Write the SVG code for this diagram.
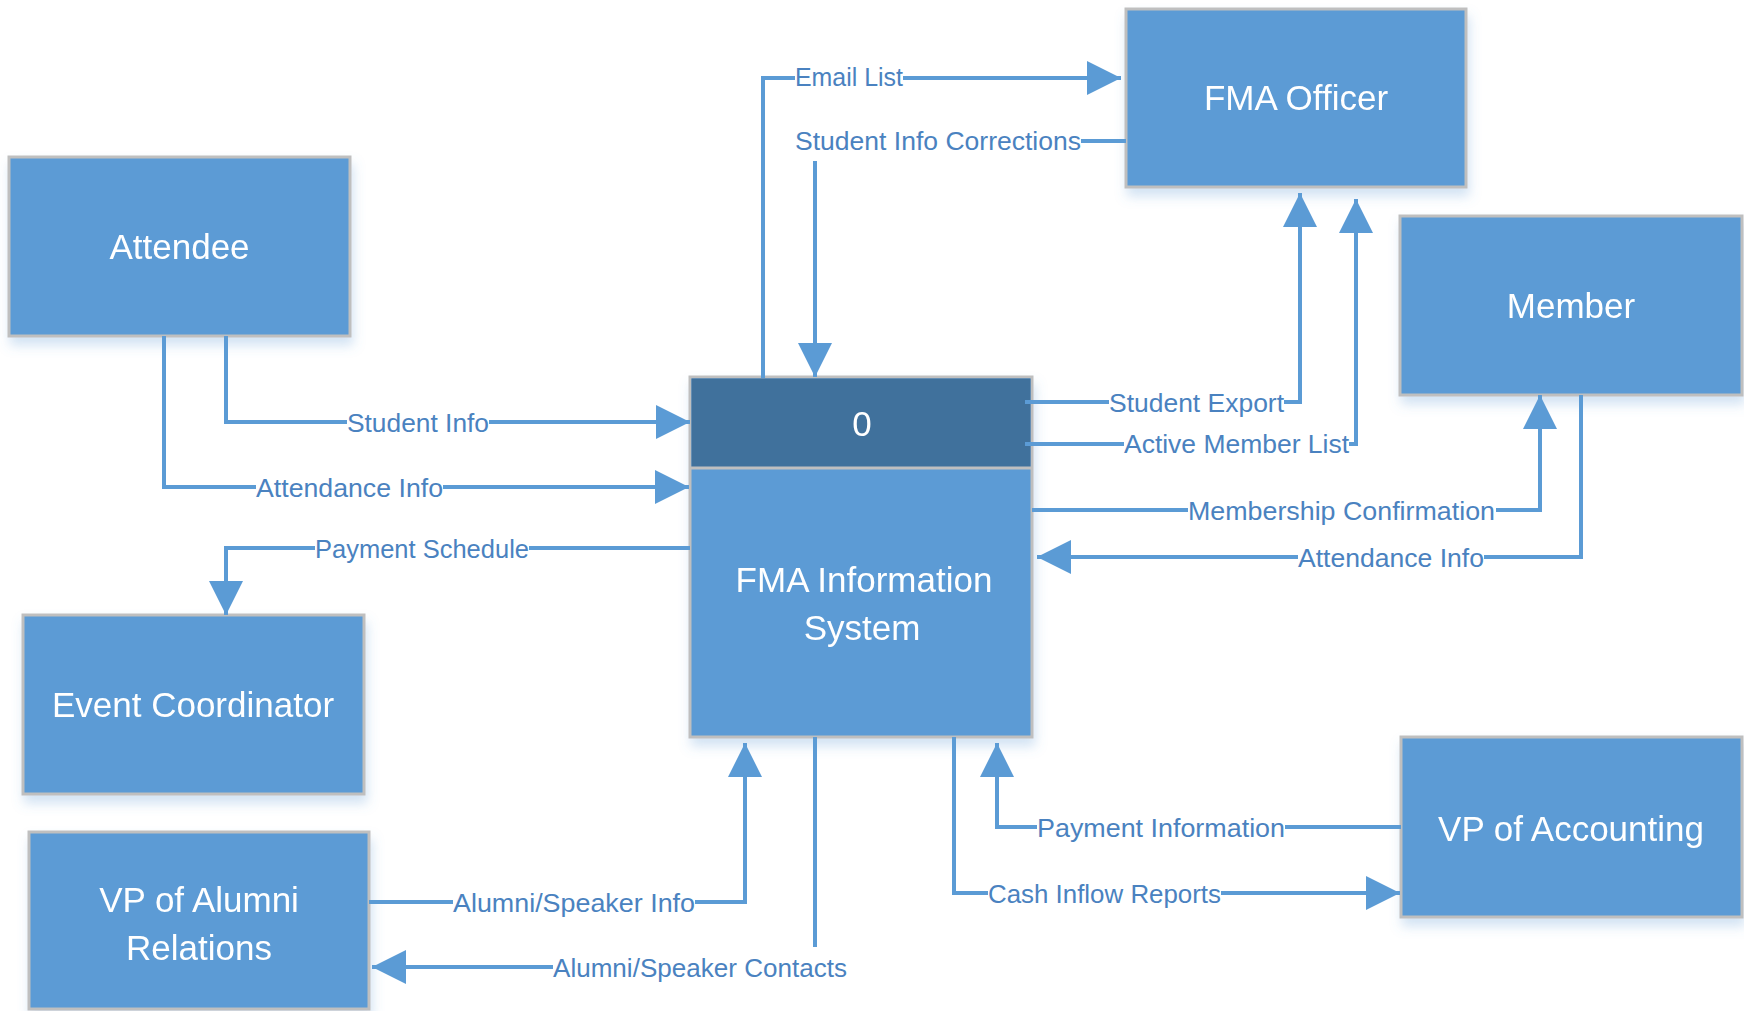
<svg xmlns="http://www.w3.org/2000/svg" width="1744" height="1011" viewBox="0 0 1744 1011">
<defs>
<style>
.box{fill:#5B9BD5;stroke:#BFBFBF;stroke-width:3;}
.hdr{fill:#41719C;}
.nt{font-family:"Liberation Sans",Arial,sans-serif;font-size:35px;fill:#FFFFFF;text-anchor:middle;}
.lb{font-family:"Liberation Sans",Arial,sans-serif;font-size:26px;fill:#4A82C0;}
.ln{fill:none;stroke:#5B9BD5;stroke-width:4;stroke-linejoin:miter;}
.ar{marker-end:url(#ah);}
</style>
<marker id="ah" viewBox="0 0 34 34" refX="34" refY="17" markerWidth="34" markerHeight="34" markerUnits="userSpaceOnUse" orient="auto">
<path d="M0,0 L34,17 L0,34 Z" fill="#5B9BD5"/>
</marker>
<filter id="sh" x="-10%" y="-10%" width="120%" height="130%">
<feDropShadow dx="2" dy="8" stdDeviation="6" flood-color="#5B9BD5" flood-opacity="0.28"/>
</filter>
</defs>
<rect width="1744" height="1011" fill="#FFFFFF"/>

<g id="attendee" filter="url(#sh)">
<rect class="box" x="9" y="157" width="341" height="179"/>
<text class="nt" x="179.5" y="259">Attendee</text>
</g>
<g id="fma-officer" filter="url(#sh)">
<rect class="box" x="1126" y="9" width="340" height="178"/>
<text class="nt" x="1296" y="110">FMA Officer</text>
</g>
<g id="member" filter="url(#sh)">
<rect class="box" x="1400" y="216" width="342" height="179"/>
<text class="nt" x="1571" y="318">Member</text>
</g>
<g id="process" filter="url(#sh)">
<rect class="box" x="690" y="377" width="342" height="360"/>
<rect class="hdr" x="691.5" y="378.5" width="339" height="89.5"/>
<line x1="690" y1="468" x2="1032" y2="468" stroke="#BFBFBF" stroke-width="3"/>
<text class="nt" x="862" y="436">0</text>
<text class="nt" x="864" y="592">FMA Information</text>
<text class="nt" x="862" y="640">System</text>
</g>
<g id="event-coordinator" filter="url(#sh)">
<rect class="box" x="23" y="615" width="341" height="179"/>
<text class="nt" x="193" y="717">Event Coordinator</text>
</g>
<g id="vp-alumni" filter="url(#sh)">
<rect class="box" x="29" y="832" width="340" height="177"/>
<text class="nt" x="199" y="912">VP of Alumni</text>
<text class="nt" x="199" y="960">Relations</text>
</g>
<g id="vp-accounting" filter="url(#sh)">
<rect class="box" x="1401" y="737" width="341" height="180"/>
<text class="nt" x="1571" y="841">VP of Accounting</text>
</g>

<g id="connectors">
<path class="ln" d="M763,378 V78 H795"/>
<path class="ln ar" d="M903,78 H1121"/>
<path class="ln" d="M1126,141 H1081"/>
<path class="ln ar" d="M815,161 V377"/>
<path class="ln" d="M1025,402 H1109"/>
<path class="ln ar" d="M1284,402 H1300 V193"/>
<path class="ln" d="M1025,444 H1124"/>
<path class="ln ar" d="M1349,444 H1356 V199"/>
<path class="ln" d="M1032,510 H1188"/>
<path class="ln ar" d="M1496,510 H1540 V395"/>
<path class="ln" d="M1581,395 V557 H1484"/>
<path class="ln ar" d="M1298,557 H1037"/>
<path class="ln" d="M226,336 V422 H347"/>
<path class="ln ar" d="M489,422 H690"/>
<path class="ln" d="M164,336 V487 H256"/>
<path class="ln ar" d="M443,487 H689"/>
<path class="ln" d="M690,548 H529"/>
<path class="ln ar" d="M315,548 H226 V615"/>
<path class="ln" d="M1401,827 H1285"/>
<path class="ln ar" d="M1037,827 H997 V743"/>
<path class="ln" d="M954,737 V893 H988"/>
<path class="ln ar" d="M1221,893 H1400"/>
<path class="ln" d="M369,902 H453"/>
<path class="ln ar" d="M695,902 H745 V743"/>
<path class="ln" d="M815,737 V947"/>
<path class="ln ar" d="M553,967 H372"/>
</g>

<g id="labels">
<text class="lb" x="795" y="86" textLength="108" lengthAdjust="spacingAndGlyphs">Email List</text>
<text class="lb" x="795" y="150" textLength="286" lengthAdjust="spacingAndGlyphs">Student Info Corrections</text>
<text class="lb" x="1109" y="412" textLength="175" lengthAdjust="spacingAndGlyphs">Student Export</text>
<text class="lb" x="1124" y="453" textLength="225" lengthAdjust="spacingAndGlyphs">Active Member List</text>
<text class="lb" x="1188" y="520" textLength="307" lengthAdjust="spacingAndGlyphs">Membership Confirmation</text>
<text class="lb" x="1298" y="567" textLength="186" lengthAdjust="spacingAndGlyphs">Attendance Info</text>
<text class="lb" x="347" y="432" textLength="142" lengthAdjust="spacingAndGlyphs">Student Info</text>
<text class="lb" x="256" y="497" textLength="187" lengthAdjust="spacingAndGlyphs">Attendance Info</text>
<text class="lb" x="315" y="558" textLength="214" lengthAdjust="spacingAndGlyphs">Payment Schedule</text>
<text class="lb" x="1037" y="837" textLength="248" lengthAdjust="spacingAndGlyphs">Payment Information</text>
<text class="lb" x="988" y="903" textLength="233" lengthAdjust="spacingAndGlyphs">Cash Inflow Reports</text>
<text class="lb" x="453" y="912" textLength="242" lengthAdjust="spacingAndGlyphs">Alumni/Speaker Info</text>
<text class="lb" x="553" y="977" textLength="294" lengthAdjust="spacingAndGlyphs">Alumni/Speaker Contacts</text>
</g>
</svg>
